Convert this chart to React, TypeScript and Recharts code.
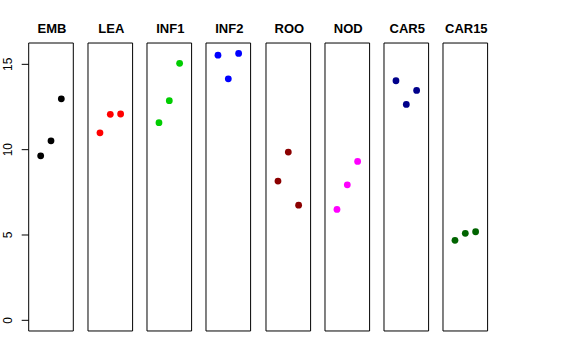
import React from 'react';
import { ReferenceArea, Scatter, ScatterChart, XAxis, YAxis } from 'recharts';

const tissues = ['EMB', 'LEA', 'INF1', 'INF2', 'ROO', 'NOD', 'CAR5', 'CAR15'];
const colors = ['#000000', '#FF0000', '#00CD00', '#0000FF', '#8B0000', '#FF00FF', '#00008B', '#006400'];

// three replicates per tissue
const replicate = [1, 2, 3];
const emb = [9.64, 10.52, 12.98];
const lea = [10.99, 12.07, 12.09];
const inf1 = [11.58, 12.87, 15.06];
const inf2 = [15.54, 14.15, 15.64];
const roo = [8.16, 9.86, 6.75];
const nod = [6.5, 7.94, 9.31];
const car5 = [14.04, 12.65, 13.47];
const car15 = [4.69, 5.1, 5.19];

const yTicks = [0, 5, 10, 15];

const values = [emb, lea, inf1, inf2, roo, nod, car5, car15];

const X_DOMAIN: [number, number] = [-0.16, 4.16];
const Y_DOMAIN: [number, number] = [-0.625, 16.25];

const PANEL_W = 44.6;
const AXIS_W = 28.7;
const PAD = 3;
const FONT = '"Liberation Sans", Arial, sans-serif';

const YTick = (props: any) => {
  const { y, payload } = props;
  const bx = 12.3 + PAD;
  return (
    <text
      x={bx}
      y={y}
      transform={`rotate(-90, ${bx}, ${y})`}
      textAnchor="middle"
      fontSize={12}
      fontFamily={FONT}
      fill="#000"
    >
      {payload.value}
    </text>
  );
};

const Panel = ({ index }: { index: number }) => {
  const first = index === 0;
  const axisW = first ? AXIS_W : 0;
  const width = PANEL_W + axisW + PAD * 2;
  const left = 28.7 + index * 59.25 - axisW - PAD;
  const data = replicate.map((r, i) => ({ x: r, y: values[index][i] }));
  const color = colors[index];
  const plotLeft = PAD + axisW;
  return (
    <div style={{ position: 'absolute', left, top: 0 }}>
      <ScatterChart
        width={width}
        height={360}
        margin={{ top: 43, bottom: 29, left: PAD, right: PAD }}
      >
        <XAxis type="number" dataKey="x" domain={X_DOMAIN} hide allowDataOverflow />
        <YAxis
          type="number"
          dataKey="y"
          domain={Y_DOMAIN}
          ticks={yTicks}
          hide={!first}
          width={AXIS_W}
          axisLine={false}
          tickSize={7}
          tickLine={{ stroke: '#000' }}
          tick={<YTick />}
          allowDataOverflow
        />
        <ReferenceArea
          x1={X_DOMAIN[0]}
          x2={X_DOMAIN[1]}
          y1={Y_DOMAIN[0]}
          y2={Y_DOMAIN[1]}
          fill="none"
          stroke="#000"
          strokeWidth={1}
          ifOverflow="visible"
        />
        <Scatter
          data={data}
          isAnimationActive={false}
          shape={(p: any) => <circle cx={p.cx} cy={p.cy} r={3.4} fill={color} />}
        />
        <text
          x={plotLeft + PANEL_W / 2 + 1}
          y={33}
          textAnchor="middle"
          fontSize={13}
          fontWeight="bold"
          fontFamily={FONT}
          fill="#000"
        >
          {tissues[index]}
        </text>
      </ScatterChart>
    </div>
  );
}

export default function App() {
  return (
    <div
      style={{
        position: 'absolute',
        left: 0,
        top: 0,
        width: 576,
        height: 360,
        background: '#fff',
      }}
    >
      {tissues.map((_, i) => (
        <Panel key={tissues[i]} index={i} />
      ))}
    </div>
  );
}
